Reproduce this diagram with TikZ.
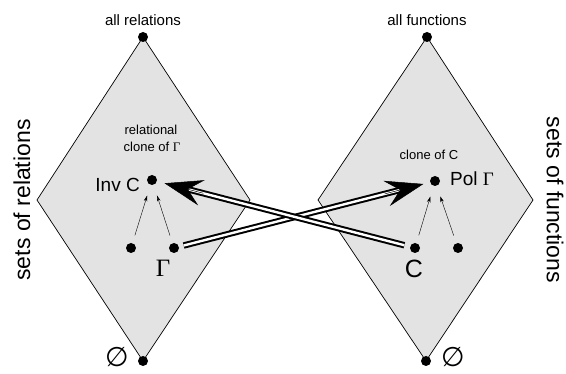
\documentclass[tikz,border=0pt]{standalone}
\usepackage{fontspec}
\setmainfont{Liberation Sans}
\newfontfamily\seriffont{Liberation Serif}
\newfontfamily\symfont{DejaVu Sans}
\usetikzlibrary{arrows.meta,calc}
\begin{document}
\begin{tikzpicture}[x=1pt,y=-1pt,
  region/.style={draw=black, line width=0.7pt, fill=black!11},
  dot/.style={circle, fill=black, inner sep=0pt, minimum size=10pt},
  lbl/.style={inner sep=0pt, font=\fontsize{#1}{#1}\selectfont},
  thinarrow/.style={line width=0.4pt, -{Stealth[length=6pt,width=3.5pt]}, shorten <=8pt, shorten >=11pt},
  shaft/.style={line width=2pt, double=white, double distance=2.4pt},
  bighead/.style={line width=0.5pt, -{Stealth[length=38pt,width=26pt,inset=14pt]}, shorten >=#1}
]
\useasboundingbox (0,0) rectangle (566,374);

% regions
\coordinate (LT) at (143,37);
\coordinate (LR) at (250,200);
\coordinate (LB) at (143,361);
\coordinate (LL) at (37,200);
\coordinate (RT) at (427,37);
\coordinate (RR) at (533,200);
\coordinate (RB) at (426,361);
\coordinate (RL) at (318,200);
\draw[region] (LT) -- (LR) -- (LB) -- (LL) -- cycle;
\draw[region] (RT) -- (RR) -- (RB) -- (RL) -- cycle;

% dots
\node[dot] (ltop) at (LT) {};
\node[dot] (lbot) at (LB) {};
\node[dot] (rtop) at (RT) {};
\node[dot] (rbot) at (RB) {};
\node[dot] (inv) at (152,180) {};
\node[dot] (l1) at (131,248) {};
\node[dot] (gam) at (174,248) {};
\node[dot] (pol) at (435,181) {};
\node[dot] (c) at (415,248) {};
\node[dot] (r2) at (458,248) {};

% thin arrows
\draw[thinarrow] (l1) -- (inv);
\draw[thinarrow] (gam) -- (inv);
\draw[thinarrow] (c) -- (pol);
\draw[thinarrow] (r2) -- (pol);

% double arrows
\draw[shaft, shorten <=10pt, shorten >=32pt] (gam.center) -- (pol.center);
\draw[shaft, shorten <=11pt, shorten >=33pt] (c.center) -- (inv.center);
\draw[bighead=12pt] ($(pol.center)!52pt!(gam.center)$) -- (pol.center);
\draw[bighead=13pt] ($(inv.center)!53pt!(c.center)$) -- (inv.center);

% labels
\node[lbl=15] (allrel) at (143,20) {all relations};
\node[lbl=15] (allfun) at (427,20) {all functions};
\node[lbl=13] (relcl) at (151,130) {relational};
\node[lbl=13] (relcl2) at (152,147) {clone of {\seriffont Γ}};
\node[lbl=13] (clc) at (429,155) {clone of C};
\node[lbl=19, anchor=east] (invl) at (140,185) {Inv C};
\node[lbl=19, anchor=west] (poll) at (450,179) {Pol {\seriffont Γ}};
\node[lbl=25] (gaml) at (163,268) {\seriffont Γ};
\node[lbl=25] (cl) at (414,269) {C};
\node[lbl=27] (e1) at (117,357) {\symfont ∅};
\node[lbl=27] (e2) at (453,357) {\symfont ∅};
\node[lbl=23, rotate=90] (setsrel) at (22,200) {sets of relations};
\node[lbl=23, rotate=-90] (setsfun) at (555,200) {sets of functions};
\end{tikzpicture}
\end{document}
